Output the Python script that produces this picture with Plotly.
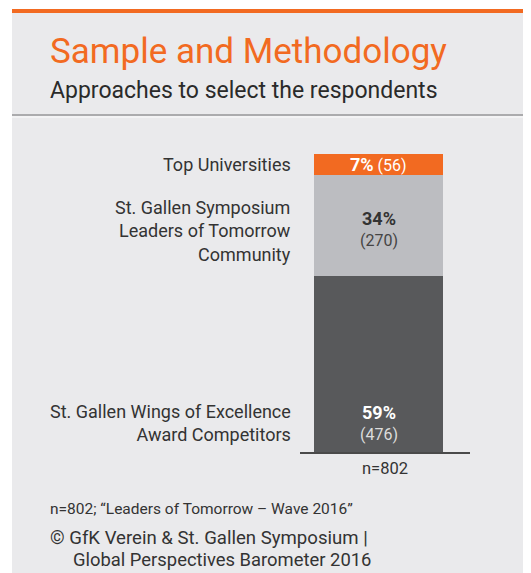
import plotly.graph_objects as go

# page is rendered with an 8px body margin; draw in page coordinates
OFF = 8
W, H = 531 - OFF, 573 - OFF
categories = ["St. Gallen Wings of Excellence<br>Award Competitors",
              "St. Gallen Symposium<br>Leaders of Tomorrow<br>Community",
              "Top Universities"]
percents = [59, 34, 7]
counts = [476, 270, 56]
colors = ["#58595B", "#BCBDC1", "#F26A21"]
pct_font_colors = ["white", "#333333", "white"]
total_label = "n=802"

FONT = "Roboto"

def px(x):
    return (x - OFF) / W

def py(y):
    return 1 - (y - OFF) / H

fig = go.Figure()
for cat, p, c in zip(categories, percents, colors):
    fig.add_trace(go.Bar(x=[78.5], y=[p], width=[129], marker=dict(color=c, line=dict(width=0)),
                         name=cat, hoverinfo="skip", showlegend=False))

annotations = []
bases = []
b = 0
for p in percents:
    bases.append(b)
    b += p

# 59% (bottom) - placed near bottom of segment
annotations.append(dict(x=78.5, y=bases[0], xref="x", yref="y", yanchor="middle", yshift=40,
                        text=f"<b>{percents[0]}%</b>", showarrow=False,
                        font=dict(family=FONT, size=18, color=pct_font_colors[0])))
annotations.append(dict(x=78.5, y=bases[0], xref="x", yref="y", yanchor="middle", yshift=18,
                        text=f"({counts[0]})", showarrow=False,
                        font=dict(family=FONT, size=16, color="#dddddd")))
# 34%
mid1 = bases[1] + percents[1] / 2
annotations.append(dict(x=78.5, y=mid1, xref="x", yref="y", yanchor="middle", yshift=7,
                        text=f"<b>{percents[1]}%</b>", showarrow=False,
                        font=dict(family=FONT, size=18, color=pct_font_colors[1])))
annotations.append(dict(x=78.5, y=mid1, xref="x", yref="y", yanchor="middle", yshift=-15,
                        text=f"({counts[1]})", showarrow=False,
                        font=dict(family=FONT, size=16, color="#444444")))
# 7%
mid2 = bases[2] + percents[2] / 2
annotations.append(dict(x=78.5, y=mid2, xref="x", yref="y", yanchor="middle",
                        text=f"<b><span style='font-size:18px'>{percents[2]}%</span></b> ({counts[2]})",
                        showarrow=False, font=dict(family=FONT, size=16, color=pct_font_colors[2])))

# category labels (left)
LBL = 18
annotations.append(dict(x=px(293), y=mid2, xref="paper", yref="y", xanchor="right", yanchor="middle",
                        text=categories[2], showarrow=False, align="right",
                        font=dict(family=FONT, size=LBL, color="#333333")))
annotations.append(dict(x=px(293), y=mid1, xref="paper", yref="y", xanchor="right", yanchor="middle",
                        yshift=-5,
                        text=categories[1], showarrow=False, align="right",
                        font=dict(family=FONT, size=LBL, color="#333333")))
annotations.append(dict(x=px(293), y=bases[0], xref="paper", yref="y", xanchor="right",
                        yanchor="bottom", yshift=5,
                        text=categories[0], showarrow=False, align="right",
                        font=dict(family=FONT, size=LBL, color="#333333")))

# titles and notes
annotations += [
    dict(x=px(48), y=py(52), xref="paper", yref="paper", xanchor="left", yanchor="middle",
         text="Sample and Methodology", showarrow=False,
         font=dict(family=FONT, size=35, color="#F26A21")),
    dict(x=px(48), y=py(91), xref="paper", yref="paper", xanchor="left", yanchor="middle",
         text="Approaches to select the respondents", showarrow=False,
         font=dict(family=FONT, size=23, color="#2a2a2a")),
    dict(x=px(48), y=py(509), xref="paper", yref="paper", xanchor="left", yanchor="middle",
         text="n=802; “Leaders of Tomorrow – Wave 2016”", showarrow=False,
         font=dict(family=FONT, size=15.5, color="#333333")),
    dict(x=px(48), y=py(538), xref="paper", yref="paper", xanchor="left", yanchor="middle",
         text="© GfK Verein & St. Gallen Symposium |", showarrow=False,
         font=dict(family=FONT, size=18.6, color="#333333")),
    dict(x=px(71), y=py(559), xref="paper", yref="paper", xanchor="left", yanchor="middle",
         text="Global Perspectives Barometer 2016", showarrow=False,
         font=dict(family=FONT, size=18.4, color="#333333")),
]

shapes = [
    dict(type="rect", xref="paper", yref="paper", x0=px(12), x1=1, y0=0, y1=py(12),
         fillcolor="#EAEAEC", line=dict(width=0), layer="below"),
    dict(type="rect", xref="paper", yref="paper", x0=px(12), x1=1, y0=py(13), y1=py(9),
         fillcolor="#F26A21", line=dict(width=0), layer="below"),
    dict(type="rect", xref="paper", yref="paper", x0=px(12), x1=1, y0=py(116), y1=py(114),
         fillcolor="#ABABAD", line=dict(width=0), layer="below"),
    dict(type="rect", xref="paper", yref="paper", x0=px(12), x1=1, y0=py(118), y1=py(116),
         fillcolor="#F3F3F4", line=dict(width=0), layer="below"),
]

fig.update_layout(
    barmode="stack",
    width=W, height=H,
    margin=dict(l=0, r=0, t=0, b=0),
    paper_bgcolor="white",
    plot_bgcolor="rgba(0,0,0,0)",
    annotations=annotations,
    shapes=shapes,
    xaxis=dict(domain=[px(300), px(470)], range=[0, 170], showgrid=False, zeroline=False,
               showline=True, linecolor="#4a4a4a", linewidth=1.5,
               tickvals=[85], ticktext=[total_label], ticks="",
               tickfont=dict(family=FONT, size=16.5, color="#333333"), fixedrange=True),
    yaxis=dict(domain=[py(452), py(154)], range=[0, sum(percents)], showgrid=False,
               zeroline=False, showticklabels=False, fixedrange=True),
)

fig.write_html("out.html")
